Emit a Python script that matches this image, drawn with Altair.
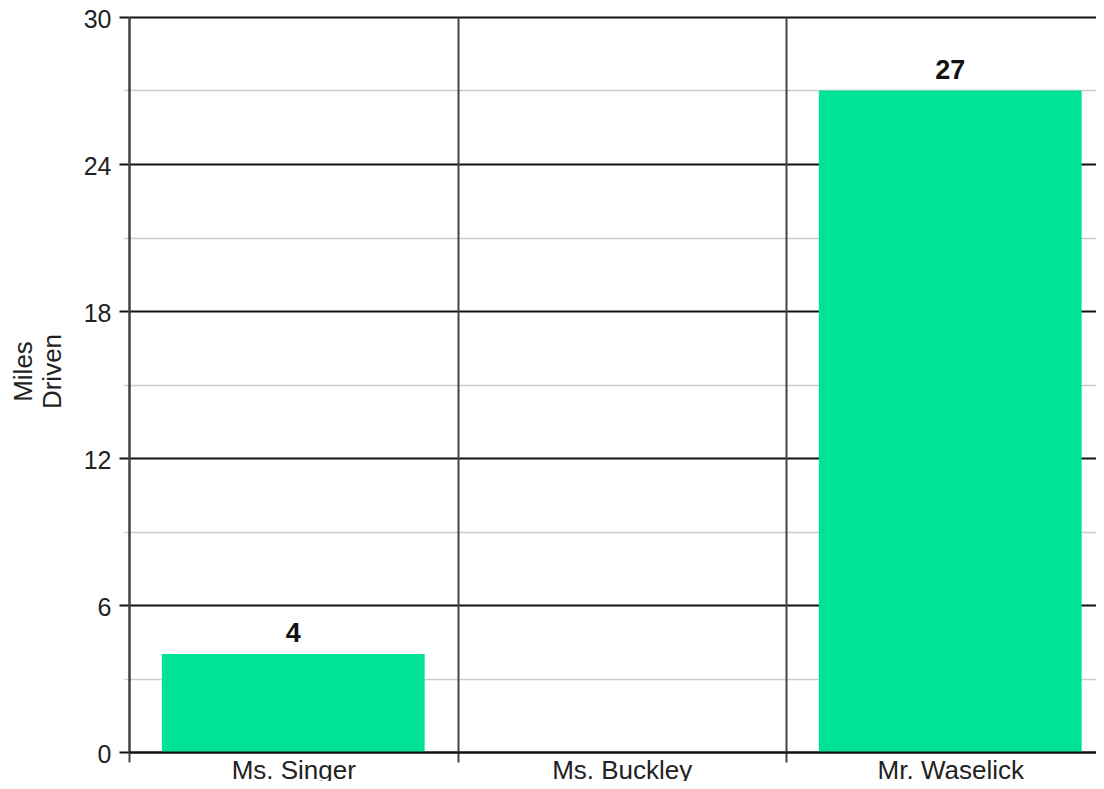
import altair as alt
import pandas as pd

teachers = ["Ms. Singer", "Ms. Buckley", "Mr. Waselick"]
miles = [4, None, 27]
y_ticks = [0, 3, 6, 9, 12, 15, 18, 21, 24, 27, 30]

df = pd.DataFrame({"teacher": teachers, "miles": miles})

FONT = "Liberation Sans"
major = "datum.value % 6 === 0"

x_enc = alt.X(
    "teacher:N",
    sort=teachers,
    scale=alt.Scale(domain=teachers, range=[0, 985.5], paddingInner=0, paddingOuter=0),
    axis=alt.Axis(
        title=None, labelAngle=0, labelFont=FONT, labelFontSize=26, labelColor="#222",
        labelPadding=-5, tickBand="extent", tickSize=10, tickColor="#444", tickWidth=2,
        grid=True, gridColor="#444", gridWidth=2, domainColor="#111", domainWidth=2,
        zindex=1,
    ),
)

y_axis = alt.Axis(
    values=y_ticks,
    labelExpr="datum.value % 6 === 0 ? datum.label : ''",
    title=["Miles", "Driven"],
    titleFont=FONT, titleFontSize=26, titleFontWeight="normal", titleColor="#222",
    titleX=-106, titleY=354, titleAngle=270, titleBaseline="middle", titleAlign="center",
    titleLineHeight=29,
    labelFont=FONT, labelFontSize=25, labelColor="#222", labelPadding=8, labelOffset=2,
    grid=True,
    gridColor={"condition": {"test": major, "value": "#111"}, "value": "#cccccc"},
    gridWidth={"condition": {"test": major, "value": 2}, "value": 1.5},
    tickColor={"condition": {"test": major, "value": "#111"}, "value": "#cccccc"},
    tickSize={"condition": {"test": major, "value": 10}, "value": 5},
    tickWidth={"condition": {"test": major, "value": 2}, "value": 1.5},
    domainColor="#333", domainWidth=2,
)

y_enc = alt.Y("miles:Q", scale=alt.Scale(domain=[0, 30], nice=False), axis=y_axis)

bars = alt.Chart(df).mark_bar(color="#00E395", width=alt.RelativeBandSize(0.8)).encode(
    x=x_enc, y=y_enc
)

labels = alt.Chart(df).mark_text(
    font=FONT, fontSize=27, fontWeight="bold", color="#111", baseline="alphabetic", dy=-12
).encode(x=x_enc, y=y_enc, text="miles:Q")

chart = (
    alt.layer(bars, labels)
    .properties(
        width=967,
        height=735,
        autosize=alt.AutoSizeParams(type="none"),
        padding={"left": 121, "top": 9, "right": 0, "bottom": 29},
    )
    .configure_view(strokeWidth=0)
)

chart.save("out.html", embed_options={"renderer": "svg", "actions": False})
